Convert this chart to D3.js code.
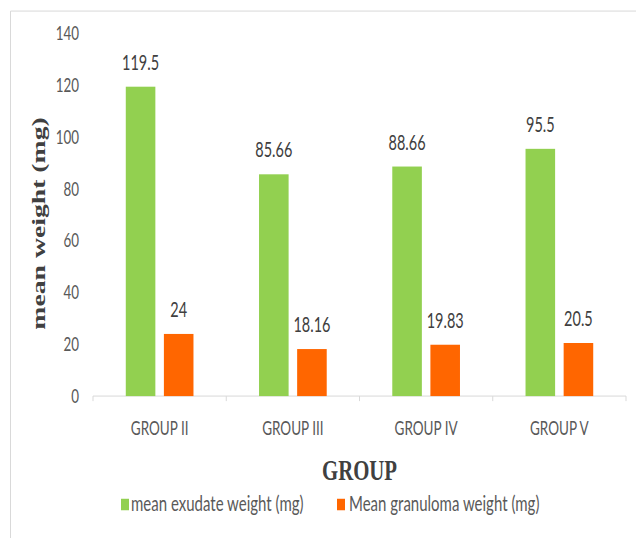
<!DOCTYPE html>
<html>
<head>
<meta charset="utf-8">
<script src="https://cdn.jsdelivr.net/npm/d3@7"></script>
<style>
  html, body { margin: 0; padding: 0; background: #fff; }
  svg { display: block; }
</style>
</head>
<body>
<div id="chart"></div>
<script>
// Data
const groups = ["GROUP II", "GROUP III", "GROUP IV", "GROUP V"];
const seriesNames = ["mean exudate weight (mg)", "Mean granuloma weight (mg)"];
const exudateWeight = [119.5, 85.66, 88.66, 95.5];
const granulomaWeight = [24, 18.16, 19.83, 20.5];
const yTicks = [0, 20, 40, 60, 80, 100, 120, 140];
const seriesColors = ["#92d050", "#ff6600"];

// The drawing is laid out on a 636x384 canvas and stretched to the window height.
const W = 636, H = 538, VH = 384;

const svg = d3.select("#chart").append("svg")
  .attr("width", W).attr("height", H)
  .attr("viewBox", `0 0 ${W} ${VH}`)
  .attr("preserveAspectRatio", "none");

// Outer chart frame
svg.append("rect")
  .attr("x", 10.5).attr("y", 7.9)
  .attr("width", 700).attr("height", 500)
  .attr("fill", "none").attr("stroke", "#d9d9d9").attr("stroke-width", 1)
  .attr("vector-effect", "non-scaling-stroke");

const plot = { left: 93, right: 626, top: 24.0, bottom: 282.7 };

const x = d3.scaleBand().domain(groups).range([plot.left, plot.right]).paddingInner(0).paddingOuter(0);
const xs = d3.scaleBand().domain(seriesNames).range([0, x.bandwidth()]).paddingInner(0.224).paddingOuter(0.86);
const y = d3.scaleLinear().domain([0, 140]).range([plot.bottom, plot.top]);

const rows = groups.map((g, i) => ({ group: g, values: [exudateWeight[i], granulomaWeight[i]] }));

const textColor = "#595959";
const sans = "Lato, 'Open Sans', sans-serif";
const serif = "'Liberation Serif', 'Times New Roman', serif";

// Y tick labels (no axis line or gridlines)
svg.append("g").selectAll("text").data(yTicks).join("text")
  .attr("x", 79).attr("y", d => y(d))
  .attr("dy", "0.36em")
  .attr("text-anchor", "end")
  .attr("font-family", sans).attr("font-size", 13.4)
  .attr("fill", textColor)
  .text(d => d);

// X axis with boundary ticks
const xAxis = svg.append("g");
xAxis.append("line")
  .attr("x1", plot.left).attr("x2", plot.right)
  .attr("y1", plot.bottom).attr("y2", plot.bottom)
  .attr("stroke", "#d9d9d9").attr("vector-effect", "non-scaling-stroke");
const boundaries = groups.map(g => x(g)).concat([x(groups[groups.length - 1]) + x.bandwidth()]);
xAxis.selectAll("line.tick").data(boundaries).join("line")
  .attr("class", "tick")
  .attr("x1", d => d).attr("x2", d => d)
  .attr("y1", plot.bottom).attr("y2", plot.bottom + 3.6)
  .attr("stroke", "#d9d9d9").attr("vector-effect", "non-scaling-stroke");
xAxis.selectAll("text").data(groups).join("text")
  .attr("x", d => x(d) + x.bandwidth() / 2)
  .attr("y", 310.5)
  .attr("text-anchor", "middle")
  .attr("font-family", sans).attr("font-size", 13.5)
  .attr("fill", textColor)
  .text(d => d);

// Bars and value labels
const gGroups = svg.append("g").selectAll("g").data(rows).join("g")
  .attr("transform", d => `translate(${x(d.group)},0)`);

gGroups.selectAll("rect").data(d => d.values.map((v, i) => ({ key: seriesNames[i], v, i })))
  .join("rect")
  .attr("x", d => xs(d.key))
  .attr("width", xs.bandwidth())
  .attr("y", d => y(d.v))
  .attr("height", d => y(0) - y(d.v))
  .attr("fill", d => seriesColors[d.i]);

gGroups.selectAll("text").data(d => d.values.map((v, i) => ({ key: seriesNames[i], v, i })))
  .join("text")
  .attr("x", d => xs(d.key) + xs.bandwidth() / 2)
  .attr("y", d => y(d.v) - 12)
  .attr("text-anchor", "middle")
  .attr("font-family", sans).attr("font-size", 14.5)
  .attr("fill", "#404040")
  .text(d => d.v);

// Axis titles
svg.append("text")
  .attr("x", (plot.left + plot.right) / 2).attr("y", 342.6)
  .attr("text-anchor", "middle")
  .attr("font-family", serif).attr("font-weight", "bold").attr("font-size", 20.8)
  .attr("fill", "#404040")
  .text("GROUP");

svg.append("text")
  .attr("transform", "translate(45.3,159.5) rotate(-90)")
  .attr("text-anchor", "middle")
  .attr("font-family", serif).attr("font-weight", "bold").attr("font-size", 19.8)
  .attr("fill", "#404040")
  .text("mean weight (mg)");

// Legend
const legendItems = [
  { name: seriesNames[0], color: seriesColors[0], sx: 121, tx: 131 },
  { name: seriesNames[1], color: seriesColors[1], sx: 337, tx: 349 }
];
const lg = svg.append("g");
lg.selectAll("rect").data(legendItems).join("rect")
  .attr("x", d => d.sx).attr("y", 356)
  .attr("width", 8).attr("height", 8.2)
  .attr("fill", d => d.color);
lg.selectAll("text").data(legendItems).join("text")
  .attr("x", d => d.tx).attr("y", 364.5)
  .attr("font-family", sans).attr("font-size", 15)
  .attr("fill", textColor)
  .text(d => d.name);
</script>
</body>
</html>
